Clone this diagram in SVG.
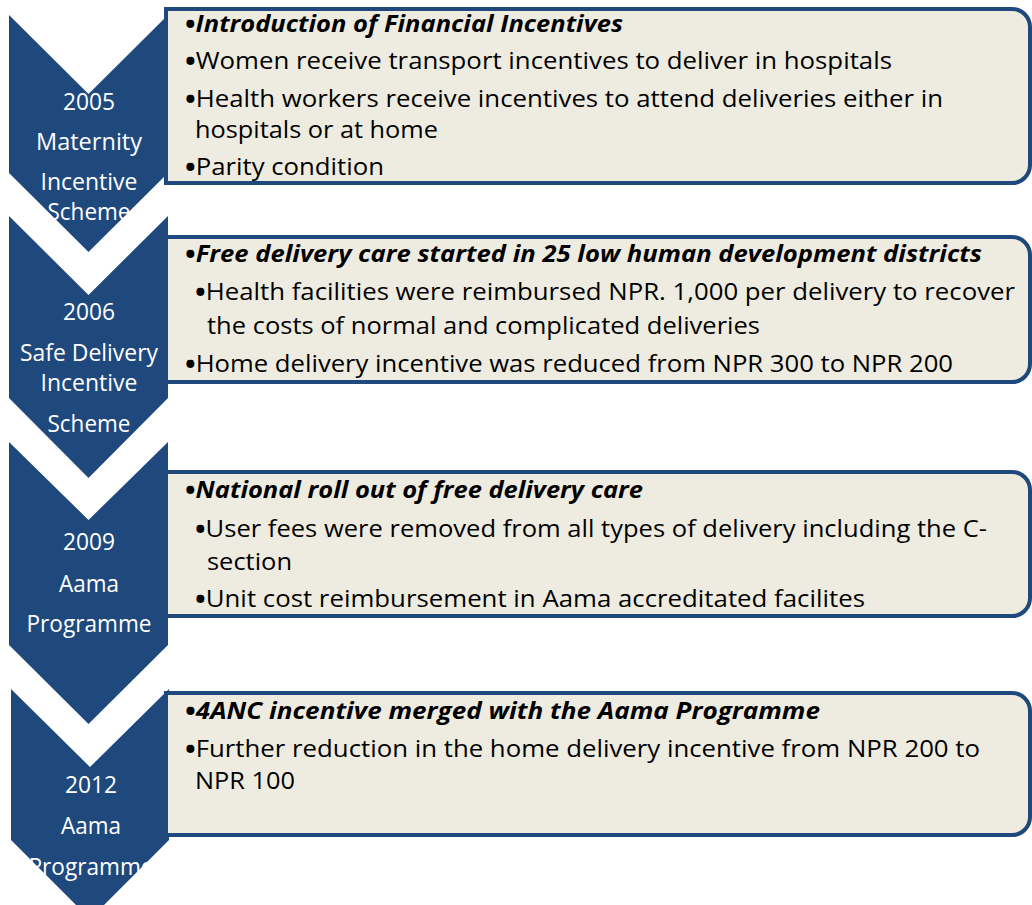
<svg xmlns="http://www.w3.org/2000/svg" width="1032" height="905" viewBox="0 0 1032 905">
<style>
.chev{fill:#1F497D;}
.box{fill:#EEECE1;stroke:#1F497D;stroke-width:4;}
.ct{font-family:"Open Sans","Noto Sans",sans-serif;font-size:23.5px;fill:#FFFFFF;text-anchor:middle;}
.t{font-family:"Open Sans","Noto Sans",sans-serif;font-size:23.5px;fill:#000000;}
.h{font-weight:bold;font-style:italic;}
.b{font-size:26px;font-weight:bold;font-style:normal;}
</style>
<rect width="1032" height="905" fill="#FFFFFF"/>
<g id="step1">
<path class="chev" d="M9,15 L88.5,94 L168,15 L168,173 L88.5,252 L9,173 Z"/>
<path class="box" d="M166,9 H1012 A18,18 0 0 1 1030,27 V165 A18,18 0 0 1 1012,183 H166 Z"/>
<text class="ct" x="89" y="110" textLength="52" lengthAdjust="spacingAndGlyphs">2005</text>
<text class="ct" x="89" y="150" textLength="106" lengthAdjust="spacingAndGlyphs">Maternity</text>
<text class="ct" x="89" y="190" textLength="97" lengthAdjust="spacingAndGlyphs">Incentive</text>
<text class="ct" x="89" y="220" textLength="83" lengthAdjust="spacingAndGlyphs">Scheme</text>
<text class="t h" x="185" y="32" textLength="438" lengthAdjust="spacingAndGlyphs"><tspan class="b" dy="2">•</tspan><tspan dy="-2">Introduction of Financial Incentives</tspan></text>
<text class="t" x="185" y="69" textLength="707" lengthAdjust="spacingAndGlyphs"><tspan class="b" dy="2">•</tspan><tspan dy="-2">Women receive transport incentives to deliver in hospitals</tspan></text>
<text class="t" x="185" y="107" textLength="758" lengthAdjust="spacingAndGlyphs"><tspan class="b" dy="2">•</tspan><tspan dy="-2">Health workers receive incentives to attend deliveries either in</tspan></text>
<text class="t" x="195" y="138" textLength="243" lengthAdjust="spacingAndGlyphs">hospitals or at home</text>
<text class="t" x="185" y="175" textLength="199" lengthAdjust="spacingAndGlyphs"><tspan class="b" dy="2">•</tspan><tspan dy="-2">Parity condition</tspan></text>
</g>
<g id="step2">
<path class="chev" d="M9,216 L88.5,295 L168,216 L168,398 L88.5,478 L9,398 Z"/>
<path class="box" d="M166,237 H1012 A18,18 0 0 1 1030,255 V364 A18,18 0 0 1 1012,382 H166 Z"/>
<text class="ct" x="89" y="320" textLength="52" lengthAdjust="spacingAndGlyphs">2006</text>
<text class="ct" x="89" y="361" textLength="138" lengthAdjust="spacingAndGlyphs">Safe Delivery</text>
<text class="ct" x="89" y="391" textLength="97" lengthAdjust="spacingAndGlyphs">Incentive</text>
<text class="ct" x="89" y="432" textLength="83" lengthAdjust="spacingAndGlyphs">Scheme</text>
<text class="t h" x="185" y="262" textLength="797" lengthAdjust="spacingAndGlyphs"><tspan class="b" dy="2">•</tspan><tspan dy="-2">Free delivery care started in 25 low human development districts</tspan></text>
<text class="t" x="195" y="300" textLength="820" lengthAdjust="spacingAndGlyphs"><tspan class="b" dy="2">•</tspan><tspan dy="-2">Health facilities were reimbursed NPR. 1,000 per delivery to recover</tspan></text>
<text class="t" x="207" y="334" textLength="553" lengthAdjust="spacingAndGlyphs">the costs of normal and complicated deliveries</text>
<text class="t" x="185" y="372" textLength="768" lengthAdjust="spacingAndGlyphs"><tspan class="b" dy="2">•</tspan><tspan dy="-2">Home delivery incentive was reduced from NPR 300 to NPR 200</tspan></text>
</g>
<g id="step3">
<path class="chev" d="M9,442 L88.5,520 L168,442 L168,645 L88.5,724 L9,645 Z"/>
<path class="box" d="M166,472 H1012 A18,18 0 0 1 1030,490 V598 A18,18 0 0 1 1012,616 H166 Z"/>
<text class="ct" x="89" y="550" textLength="52" lengthAdjust="spacingAndGlyphs">2009</text>
<text class="ct" x="89" y="592" textLength="60" lengthAdjust="spacingAndGlyphs">Aama</text>
<text class="ct" x="89" y="632" textLength="125" lengthAdjust="spacingAndGlyphs">Programme</text>
<text class="t h" x="185" y="498" textLength="458" lengthAdjust="spacingAndGlyphs"><tspan class="b" dy="2">•</tspan><tspan dy="-2">National roll out of free delivery care</tspan></text>
<text class="t" x="195" y="537" textLength="792" lengthAdjust="spacingAndGlyphs"><tspan class="b" dy="2">•</tspan><tspan dy="-2">User fees were removed from all types of delivery including the C-</tspan></text>
<text class="t" x="207" y="570" textLength="85" lengthAdjust="spacingAndGlyphs">section</text>
<text class="t" x="195" y="607" textLength="670" lengthAdjust="spacingAndGlyphs"><tspan class="b" dy="2">•</tspan><tspan dy="-2">Unit cost reimbursement in Aama accreditated facilites</tspan></text>
</g>
<g id="step4">
<path class="chev" d="M11,689 L90,767 L169,689 L169,840 L90,919 L11,840 Z"/>
<path class="box" d="M166,693 H1012 A18,18 0 0 1 1030,711 V817 A18,18 0 0 1 1012,835 H166 Z"/>
<text class="ct" x="91" y="793" textLength="52" lengthAdjust="spacingAndGlyphs">2012</text>
<text class="ct" x="91" y="834" textLength="60" lengthAdjust="spacingAndGlyphs">Aama</text>
<text class="ct" x="91" y="875" textLength="125" lengthAdjust="spacingAndGlyphs">Programme</text>
<text class="t h" x="185" y="719" textLength="635" lengthAdjust="spacingAndGlyphs"><tspan class="b" dy="2">•</tspan><tspan dy="-2">4ANC incentive merged with the Aama Programme</tspan></text>
<text class="t" x="185" y="757" textLength="795" lengthAdjust="spacingAndGlyphs"><tspan class="b" dy="2">•</tspan><tspan dy="-2">Further reduction in the home delivery incentive from NPR 200 to</tspan></text>
<text class="t" x="195" y="789" textLength="100" lengthAdjust="spacingAndGlyphs">NPR 100</text>
</g>
<g id="connectors"/>
</svg>
